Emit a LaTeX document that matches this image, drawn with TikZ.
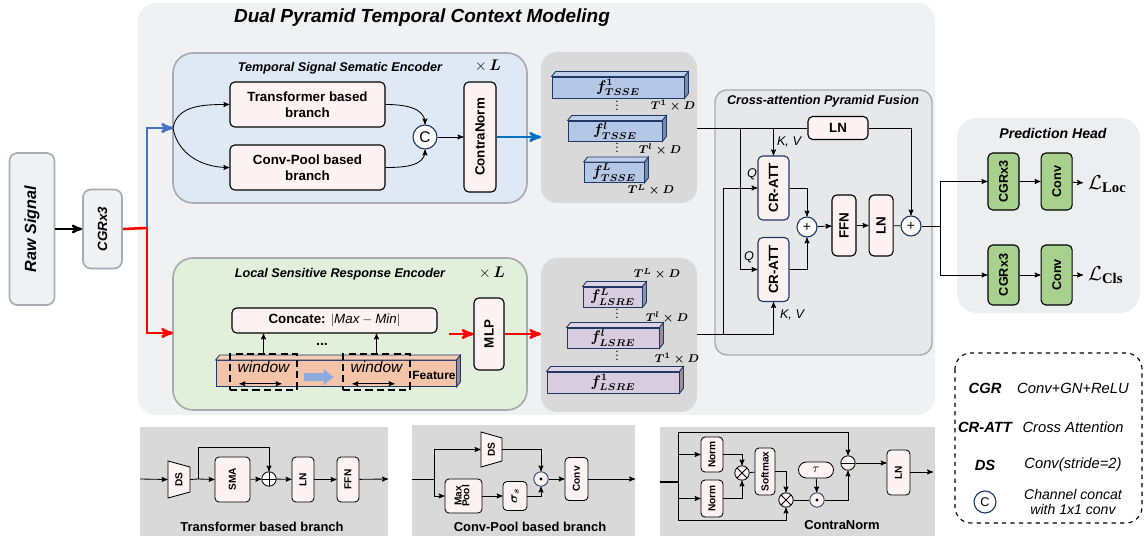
\documentclass[tikz,border=0pt]{standalone}
\usepackage{fontspec}
\setmainfont{Liberation Sans}
\newfontfamily\serifbold{Liberation Serif}
\usepackage{amsmath,amssymb,bm}
\usetikzlibrary{arrows,arrows.meta,positioning,calc}
\definecolor{outergrey}{RGB}{240,241,243}
\definecolor{edgegrey}{RGB}{168,171,175}
\definecolor{tsseblue}{RGB}{222,233,245}
\definecolor{lsregreen}{RGB}{226,239,218}
\definecolor{pinkfill}{RGB}{253,242,242}
\definecolor{pyrgrey}{RGB}{217,217,217}
\definecolor{featblue}{RGB}{180,199,231}
\definecolor{featpurple}{RGB}{216,204,224}
\definecolor{featorange}{RGB}{244,196,168}
\definecolor{ringnavy}{RGB}{31,56,100}
\definecolor{capgrey}{RGB}{231,232,234}
\definecolor{headgrey}{RGB}{236,238,240}
\definecolor{cgrgreen}{RGB}{169,209,142}
\definecolor{sigblue}{RGB}{68,114,196}
\definecolor{outblue}{RGB}{0,112,192}
\definecolor{fatblue}{RGB}{143,170,220}
\tikzstyle{title}=[font=\bfseries\itshape\fontsize{13.5}{15}\selectfont]
\tikzstyle{subtitle}=[font=\bfseries\itshape\fontsize{9}{11}\selectfont]
\tikzstyle{encbox}=[draw=edgegrey,line width=1.2pt,rounded corners=0.5cm]
\tikzstyle{greybox}=[draw=edgegrey,fill=outergrey,line width=1.2pt,rounded corners=0.2cm,font=\bfseries\itshape\fontsize{9.5}{11}\selectfont]
\tikzstyle{pinkbox}=[draw,fill=pinkfill,thick,rounded corners=0.12cm,inner sep=1pt,align=center,font=\bfseries\fontsize{9.5}{11}\selectfont]
\tikzstyle{attbox}=[pinkbox,draw=ringnavy]
\tikzstyle{greenbox}=[draw,fill=cgrgreen,thick,rounded corners=0.12cm,inner sep=1pt,font=\bfseries\fontsize{9}{10}\selectfont]
\tikzstyle{ring}=[circle,draw=ringnavy,fill=white,thick,inner sep=0pt,minimum size=0.5cm,font=\fontsize{10}{12}\selectfont]
\tikzstyle{smallbox}=[draw,fill=pinkfill,semithick,rounded corners=0.1cm,inner sep=1pt,align=center,font=\bfseries\fontsize{7.2}{7.5}\selectfont]
\tikzstyle{op}=[circle,draw,fill=pinkfill,semithick,inner sep=0pt,minimum size=0.36cm]
\tikzstyle{opplus}=[op,path picture={\draw (path picture bounding box.north) -- (path picture bounding box.south) (path picture bounding box.west) -- (path picture bounding box.east);}]
\tikzstyle{optimes}=[op,path picture={\draw (path picture bounding box.north west) -- (path picture bounding box.south east) (path picture bounding box.south west) -- (path picture bounding box.north east);}]
\tikzstyle{opminus}=[op,path picture={\draw (path picture bounding box.west) -- (path picture bounding box.east);}]
\tikzstyle{opdot}=[op,draw=ringnavy,path picture={\fill[black] (path picture bounding box.center) circle (1.2pt);}]
\tikzstyle{featface}=[draw=ringnavy,semithick,inner sep=0pt,font=\mathversion{bold}\fontsize{10.5}{11}\selectfont]
\tikzstyle{dimlbl}=[inner sep=0.5pt,font=\mathversion{bold}\fontsize{8}{9}\selectfont]
\tikzstyle{vdot}=[inner sep=0pt,align=center,font=\bfseries\fontsize{6}{2.8}\selectfont]
\tikzstyle{arrlbl}=[font=\itshape\fontsize{9}{10}\selectfont]
\tikzstyle{panellbl}=[font=\bfseries\fontsize{9.2}{10}\selectfont]
\tikzstyle{legkey}=[font=\bfseries\itshape\fontsize{10.5}{12}\selectfont]
\tikzstyle{legtxt}=[font=\itshape\fontsize{10.5}{12}\selectfont,align=center]
\tikzstyle{redline}=[red,line width=1.8pt]
\tikzstyle{blueline}=[sigblue,line width=1.8pt]
% name, center, width, height, fill, text
\newcommand{\featcube}[6]{%
  \node[featface,fill=#5,minimum width=#3,minimum height=#4] (#1) at #2 {#6};
  \draw[ringnavy,semithick,fill=#5!85!white] (#1.north west) -- ++(4,-5) -- ($(#1.north east)+(4,-5)$) -- (#1.north east) -- cycle;
  \draw[ringnavy,semithick,fill=#5!70!black] (#1.north east) -- ++(4,-5) -- ($(#1.south east)+(4,-5)$) -- (#1.south east) -- cycle;
}

\begin{document}
\begin{tikzpicture}[x=0.025cm,y=-0.025cm,>=stealth',semithick]
\useasboundingbox (0,0) rectangle (1144,536);

% dual pyramid panel
\fill[outergrey,rounded corners=0.45cm] (138,3) rectangle (935,415);
\node[title] (dualtitle) at (422,18) {Dual Pyramid Temporal Context Modeling};

% input stem
\node[greybox,minimum width=1.125cm,minimum height=3.8cm,font=\bfseries\itshape\fontsize{11.5}{13}\selectfont] (raw) at (32,229) {\rotatebox{90}{Raw Signal}};
\node[greybox,minimum width=0.975cm,minimum height=1.975cm] (cgr) at (102.5,229) {\rotatebox{90}{CGRx3}};
\draw[->,line width=1.5pt] (raw) -- (cgr);

% encoders
\draw[encbox,fill=tsseblue] (173,53) rectangle (527,203);
\draw[encbox,fill=lsregreen] (173,258) rectangle (527,410);
\node[subtitle] (tssetitle) at (340,68) {Temporal Signal Sematic Encoder};
\node[font=\fontsize{11}{12}\selectfont] (tssel) at (488,66) {$\times\,\bm{L}$};
\node[subtitle] (lsretitle) at (340,274) {Local Sensitive Response Encoder};
\node[font=\fontsize{11}{12}\selectfont] (lsrel) at (492,273) {$\times\,\bm{L}$};

\coordinate (fork) at (147,228);
\coordinate (tin) at (173,128);
\coordinate (lin) at (173,333);
\draw[blueline,->] (fork) |- (tin);
\draw[redline] (cgr.east) -- (fork);
\draw[redline,->] (fork) |- (lin);

% TSSE
\node[pinkbox,minimum width=3.875cm,minimum height=1.125cm] (trans) at (307.5,104.5) {Transformer based\\branch};
\node[pinkbox,minimum width=3.875cm,minimum height=1.125cm] (cpool) at (307.5,167.5) {Conv-Pool based\\branch};
\node[ring,minimum size=0.6cm,font=\fontsize{11}{12}\selectfont] (cat) at (425,137) {C};
\node[pinkbox,minimum width=0.8cm,minimum height=2.75cm] (cnorm) at (480,137) {\rotatebox{90}{ContraNorm}};
\draw[->] (tin) to[out=80,in=180] (trans.west);
\draw[->] (tin) to[out=-80,in=180] (cpool.west);
\draw[->] (trans.east) to[out=0,in=90] (cat.north);
\draw[->] (cpool.east) to[out=0,in=-90] (cat.south);
\draw[->] (cat) -- (cnorm.west |- cat);
\draw[->,outblue,line width=1.8pt] (cnorm.east |- cat) -- (541,137);

% LSRE
\node[pinkbox,minimum width=5.125cm,minimum height=0.625cm,font=\fontsize{9.5}{11}\selectfont] (concat) at (334.5,320.5) {\textbf{Concate:} $|\mathit{Max}-\mathit{Min}|$};
\featcube{feat}{(336,373.5)}{6.0cm}{0.65cm}{featorange}{}
\node[font=\bfseries\fontsize{8.5}{9}\selectfont] (featlbl) at (434,375) {Feature};
\node[draw,thick,dash pattern=on 5pt off 3pt,minimum width=1.675cm,minimum height=0.9cm] (win1) at (263.5,372) {};
\node[draw,thick,dash pattern=on 5pt off 3pt,minimum width=1.675cm,minimum height=0.9cm] (win2) at (376.5,372) {};
\node[font=\fontsize{11}{12}\selectfont] (wl1) at (263.5,367) {$\mathit{window}$};
\node[font=\fontsize{11}{12}\selectfont] (wl2) at (376.5,367) {$\mathit{window}$};
\draw[<->] ([xshift=0.25cm,yshift=0.17cm]win1.south west) -- ([xshift=-0.4cm,yshift=0.17cm]win1.south east);
\draw[<->] ([xshift=0.25cm,yshift=0.17cm]win2.south west) -- ([xshift=-0.4cm,yshift=0.17cm]win2.south east);
\draw[fatblue,line width=5pt,-{Triangle[length=7pt,width=11pt]}] (win1.east |- wl1) ++(0.15cm,-0.25cm) -- ++(0.75cm,0) coordinate (fatend);
\draw[->] (win1.north) -- (win1.north |- concat.south);
\draw[->] (win2.north) -- (win2.north |- concat.south);
\node[font=\bfseries] (dots) at (322,344) {...};
\node[pinkbox,minimum width=0.75cm,minimum height=1.8cm] (mlp) at (489,334) {\rotatebox{90}{MLP}};
\coordinate (lsreout) at (449,334);
\draw[redline,->] (lsreout) -- (mlp.west);
\draw[redline,->] (mlp.east) -- (541,334);

% feature pyramids
\fill[pyrgrey,rounded corners=0.4cm] (541,52) rectangle (697,203);
\fill[pyrgrey,rounded corners=0.4cm] (541,258) rectangle (697,412);
\featcube{ft1}{(618,87.5)}{3.3cm}{0.525cm}{featblue}{$f^{1}_{TSSE}$}
\featcube{ftl}{(615,131)}{2.35cm}{0.5cm}{featblue}{$f^{l}_{TSSE}$}
\featcube{ftL}{(614,172.5)}{1.5cm}{0.5cm}{featblue}{$f^{L}_{TSSE}$}
\node[dimlbl] (dt1) at (673,106) {$T^{1}\times D$};
\node[dimlbl] (dtl) at (660,149) {$T^{l}\times D$};
\node[dimlbl] (dtL) at (651,190) {$T^{L}\times D$};
\node[vdot] (vd1) at (617,106) {.\\.\\.};
\node[vdot] (vd2) at (617,148) {.\\.\\.};
\featcube{flL}{(612.5,297)}{1.475cm}{0.5cm}{featpurple}{$f^{L}_{LSRE}$}
\featcube{fll}{(613,338)}{2.3cm}{0.5cm}{featpurple}{$f^{l}_{LSRE}$}
\featcube{fl1}{(613,382.5)}{3.3cm}{0.525cm}{featpurple}{$f^{1}_{LSRE}$}
\node[dimlbl] (dlL) at (657,274) {$T^{L}\times D$};
\node[dimlbl] (dll) at (667,317) {$T^{l}\times D$};
\node[dimlbl] (dl1) at (677,359) {$T^{1}\times D$};
\node[vdot] (vd3) at (617,314) {.\\.\\.};
\node[vdot] (vd4) at (617,356) {.\\.\\.};

% cross-attention pyramid fusion
\draw[draw=edgegrey,fill=capgrey,line width=1pt,rounded corners=0.3cm] (715,90) rectangle (932,355);
\node[font=\bfseries\itshape\fontsize{9}{10}\selectfont] (captitle) at (823,101) {Cross-attention Pyramid Fusion};
\node[pinkbox,minimum width=1.5cm,minimum height=0.575cm] (lna) at (838,128) {LN};
\node[attbox,minimum width=0.775cm,minimum height=1.6cm] (att1) at (773.5,188) {\rotatebox{90}{CR-ATT}};
\node[attbox,minimum width=0.775cm,minimum height=1.6cm] (att2) at (773.5,269.5) {\rotatebox{90}{CR-ATT}};
\node[ring] (plus1) at (807,227) {+};
\node[pinkbox,minimum width=0.6cm,minimum height=1.525cm] (ffn) at (844,225.5) {\rotatebox{90}{FFN}};
\node[pinkbox,minimum width=0.6cm,minimum height=1.525cm] (ln2) [right=0.3cm of ffn] {\rotatebox{90}{LN}};
\node[ring] (plus2) at (911,226) {+};
\coordinate (pyrtop) at (697,128);
\coordinate (pyrbot) at (697,334);
\coordinate (qtap) at (740,128);
\coordinate (kvtap) at (773.5,128);
\coordinate (qtap2) at (723,334);
\coordinate (kvtap2) at (773.5,334);
\draw (pyrtop) -- (lna.west);
\draw[->] (lna.east) -| (plus2.north);
\draw[->] (qtap) |- (att2.west);
\draw[->] (kvtap) -- (att1.north);
\draw (pyrbot) -- (kvtap2);
\draw[->] (qtap2) |- (att1.west);
\draw[->] (kvtap2) -- (att2.south);
\draw[->] (att1.east) -| (plus1.north);
\draw[->] (att2.east) -| (plus1.south);
\draw[->] (plus1) -- (ffn);
\draw[->] (ffn) -- (ln2);
\draw (ln2) -- (plus2);
\node[arrlbl] (kv1) at (789,142) {K, V};
\node[arrlbl] (kv2) at (792,315) {K, V};
\node[arrlbl] (q1) at (752,174) {Q};
\node[arrlbl] (q2) at (749,257) {Q};

% prediction head
\fill[headgrey,rounded corners=0.5cm] (957,118) rectangle (1140,313);
\node[font=\bfseries\itshape\fontsize{10}{11}\selectfont] (headtitle) at (1053,133) {Prediction Head};
\node[greenbox,minimum width=0.775cm,minimum height=1.425cm] (cgr1) at (1003.5,181.5) {\rotatebox{90}{CGRx3}};
\node[greenbox,minimum width=0.775cm,minimum height=1.425cm] (conv1) [right=0.525cm of cgr1] {\rotatebox{90}{Conv}};
\node[greenbox,minimum width=0.775cm,minimum height=1.5cm] (cgr2) at (1003.5,275) {\rotatebox{90}{CGRx3}};
\node[greenbox,minimum width=0.775cm,minimum height=1.5cm] (conv2) [right=0.525cm of cgr2] {\rotatebox{90}{Conv}};
\node[font=\fontsize{15}{16}\selectfont,anchor=west] (lloc) at (1083,184) {$\mathcal{L}_{\text{\serifbold\bfseries Loc}}$};
\node[font=\fontsize{15}{16}\selectfont,anchor=west] (lcls) at (1083,275) {$\mathcal{L}_{\text{\serifbold\bfseries Cls}}$};
\draw (plus2.east) -- (940,226) coordinate (hsplit);
\draw[->] (hsplit) |- (cgr1.west);
\draw[->] (hsplit) |- (cgr2.west);
\draw[->] (cgr1) -- (conv1);
\draw[->] (cgr2) -- (conv2);
\draw[->] (conv1) -- (lloc);
\draw[->] (conv2) -- (lcls);

% legend
\draw[dashed,thick,rounded corners=0.4cm] (955,353) rectangle (1142,523);
\node[legkey] (k1) at (985,388) {CGR};
\node[legtxt] (t1) at (1073,388) {Conv+GN+ReLU};
\node[legkey] (k2) at (985,427) {CR-ATT};
\node[legtxt] (t2) at (1073,427) {Cross Attention};
\node[legkey] (k3) at (985,465) {DS};
\node[legtxt] (t3) at (1073,465) {Conv(stride=2)};
\node[ring,minimum size=0.55cm,font=\fontsize{9}{10}\selectfont] (k4) at (985,502) {C};
\node[legtxt,font=\itshape\fontsize{10}{11}\selectfont] (t4) at (1073,502) {Channel concat\\with 1x1 conv};

% transformer based branch
\fill[pyrgrey] (140,427) rectangle (388,536);
\coordinate (inb) at (140,479);
\coordinate (splitb) at (198,479);
\coordinate (outb) at (388,479);
\draw[fill=pinkfill] (168,461) -- (190,467) -- (190,492) -- (168,498) -- cycle;
\node[font=\bfseries\fontsize{7.2}{7.5}\selectfont,minimum width=0.55cm,minimum height=0.925cm,inner sep=0pt] (dsb) at (179,479.5) {\rotatebox{90}{DS}};
\node[smallbox,minimum width=0.875cm,minimum height=1.125cm] (sma) at (232.5,479.5) {\rotatebox{90}{SMA}};
\node[opplus,fill=white] (plusb) at (269,479) {};
\node[smallbox,minimum width=0.55cm,minimum height=1.125cm] (lnb) at (303,479.5) {\rotatebox{90}{LN}};
\node[smallbox,minimum width=0.55cm,minimum height=1.125cm] (ffnb) at (348,479.5) {\rotatebox{90}{FFN}};
\draw[->] (inb) -- (dsb.west);
\draw (dsb.east) -- (splitb);
\draw[->] (splitb) -- (sma.west);
\draw[->] (splitb) -- ++(0,-32) -| (plusb.north);
\draw[->] (sma) -- (plusb);
\draw[->] (plusb) -- (lnb);
\draw[->] (lnb) -- (ffnb);
\draw[->] (ffnb) -- (outb);
\node[panellbl] (tbtitle) at (262,527) {Transformer based branch};

% conv-pool based branch
\fill[pyrgrey] (412,425) rectangle (635,536);
\coordinate (inc) at (412,479);
\coordinate (splitc) at (434,479);
\coordinate (outc) at (635,479);
\draw[fill=pinkfill] (481,432) -- (502,438) -- (502,461) -- (481,467) -- cycle;
\node[font=\bfseries\fontsize{7.2}{7.5}\selectfont,minimum width=0.525cm,minimum height=0.875cm,inner sep=0pt] (dsc) at (491.5,449.5) {\rotatebox{90}{DS}};
\node[smallbox,minimum width=0.925cm,minimum height=0.85cm] (maxp) at (463.5,496) {\rotatebox{90}{\begin{tabular}{@{}c@{}}Max\\[-2pt]Pool\end{tabular}}};
\node[smallbox,minimum width=0.6cm,minimum height=0.725cm,font=\bfseries\fontsize{9}{9}\selectfont] (sig) at (515,496) {\rotatebox{90}{$\boldsymbol{\sigma_s}$}};
\node[opdot] (odotb) at (541,479) {};
\node[smallbox,minimum width=0.575cm,minimum height=1.075cm] (convb) at (576.5,479) {\rotatebox{90}{Conv}};
\draw (inc) -- (splitc);
\draw[->] (splitc) |- (dsc.west);
\draw[->] (splitc) |- (maxp.west);
\draw[->] (dsc.east) -| (odotb.north);
\draw[->] (maxp) -- (sig);
\draw[->] (sig.east) -| (odotb.south);
\draw[->] (odotb) -- (convb);
\draw[->] (convb) -- (outc);
\node[panellbl] (cptitle) at (530,527) {Conv-Pool based branch};

% contranorm
\fill[pyrgrey] (660,427) rectangle (935,536);
\coordinate (ind) at (660,482);
\coordinate (splitd) at (678,482);
\coordinate (outd) at (933,472);
\node[smallbox,minimum width=0.55cm,minimum height=0.875cm] (norm1) at (712,454.5) {\rotatebox{90}{Norm}};
\node[smallbox,minimum width=0.55cm,minimum height=0.925cm] (norm2) at (712,498.5) {\rotatebox{90}{Norm}};
\node[optimes] (times1) at (742,473) {};
\node[smallbox,minimum width=0.5cm,minimum height=1.175cm] (softm) at (765,471.5) {\rotatebox{90}{Softmax}};
\node[optimes] (times2) at (786,500) {};
\node[opdot] (odotd) at (817,500) {};
\node[smallbox,minimum width=0.875cm,minimum height=0.4cm,rounded corners=0.2cm,font=\fontsize{9}{9}\selectfont] (tau) at (816,470) {$\tau$};
\node[opminus] (minus) at (848,463) {};
\node[smallbox,minimum width=0.575cm,minimum height=1.125cm] (lnd) at (898.5,472.5) {\rotatebox{90}{LN}};
\draw[line width=1.3pt] (ind) -- (splitd);
\draw[->] (splitd) -- ++(0,-50) -| (minus.north);
\draw[->] (splitd) |- (norm1.west);
\draw[->] (splitd) |- (norm2.west);
\draw[->] (splitd) -- ++(0,38) -| (times2.south);
\draw[->] (norm1.east) -| (times1.north);
\draw[->] (norm2.east) -| (times1.south);
\draw (times1) -- (softm);
\draw[->] (softm.east) -| (times2.north);
\draw (times2) -- (odotd);
\draw[->] (tau) -- (odotd);
\draw[->] (odotd.east) -| (minus.south);
\draw[->] (minus.east) -- (minus.east -| lnd.west);
\draw[->] (lnd.east |- outd) -- (outd);
\node[panellbl] (cntitle) at (842,525) {ContraNorm};

\end{tikzpicture}
\end{document}
